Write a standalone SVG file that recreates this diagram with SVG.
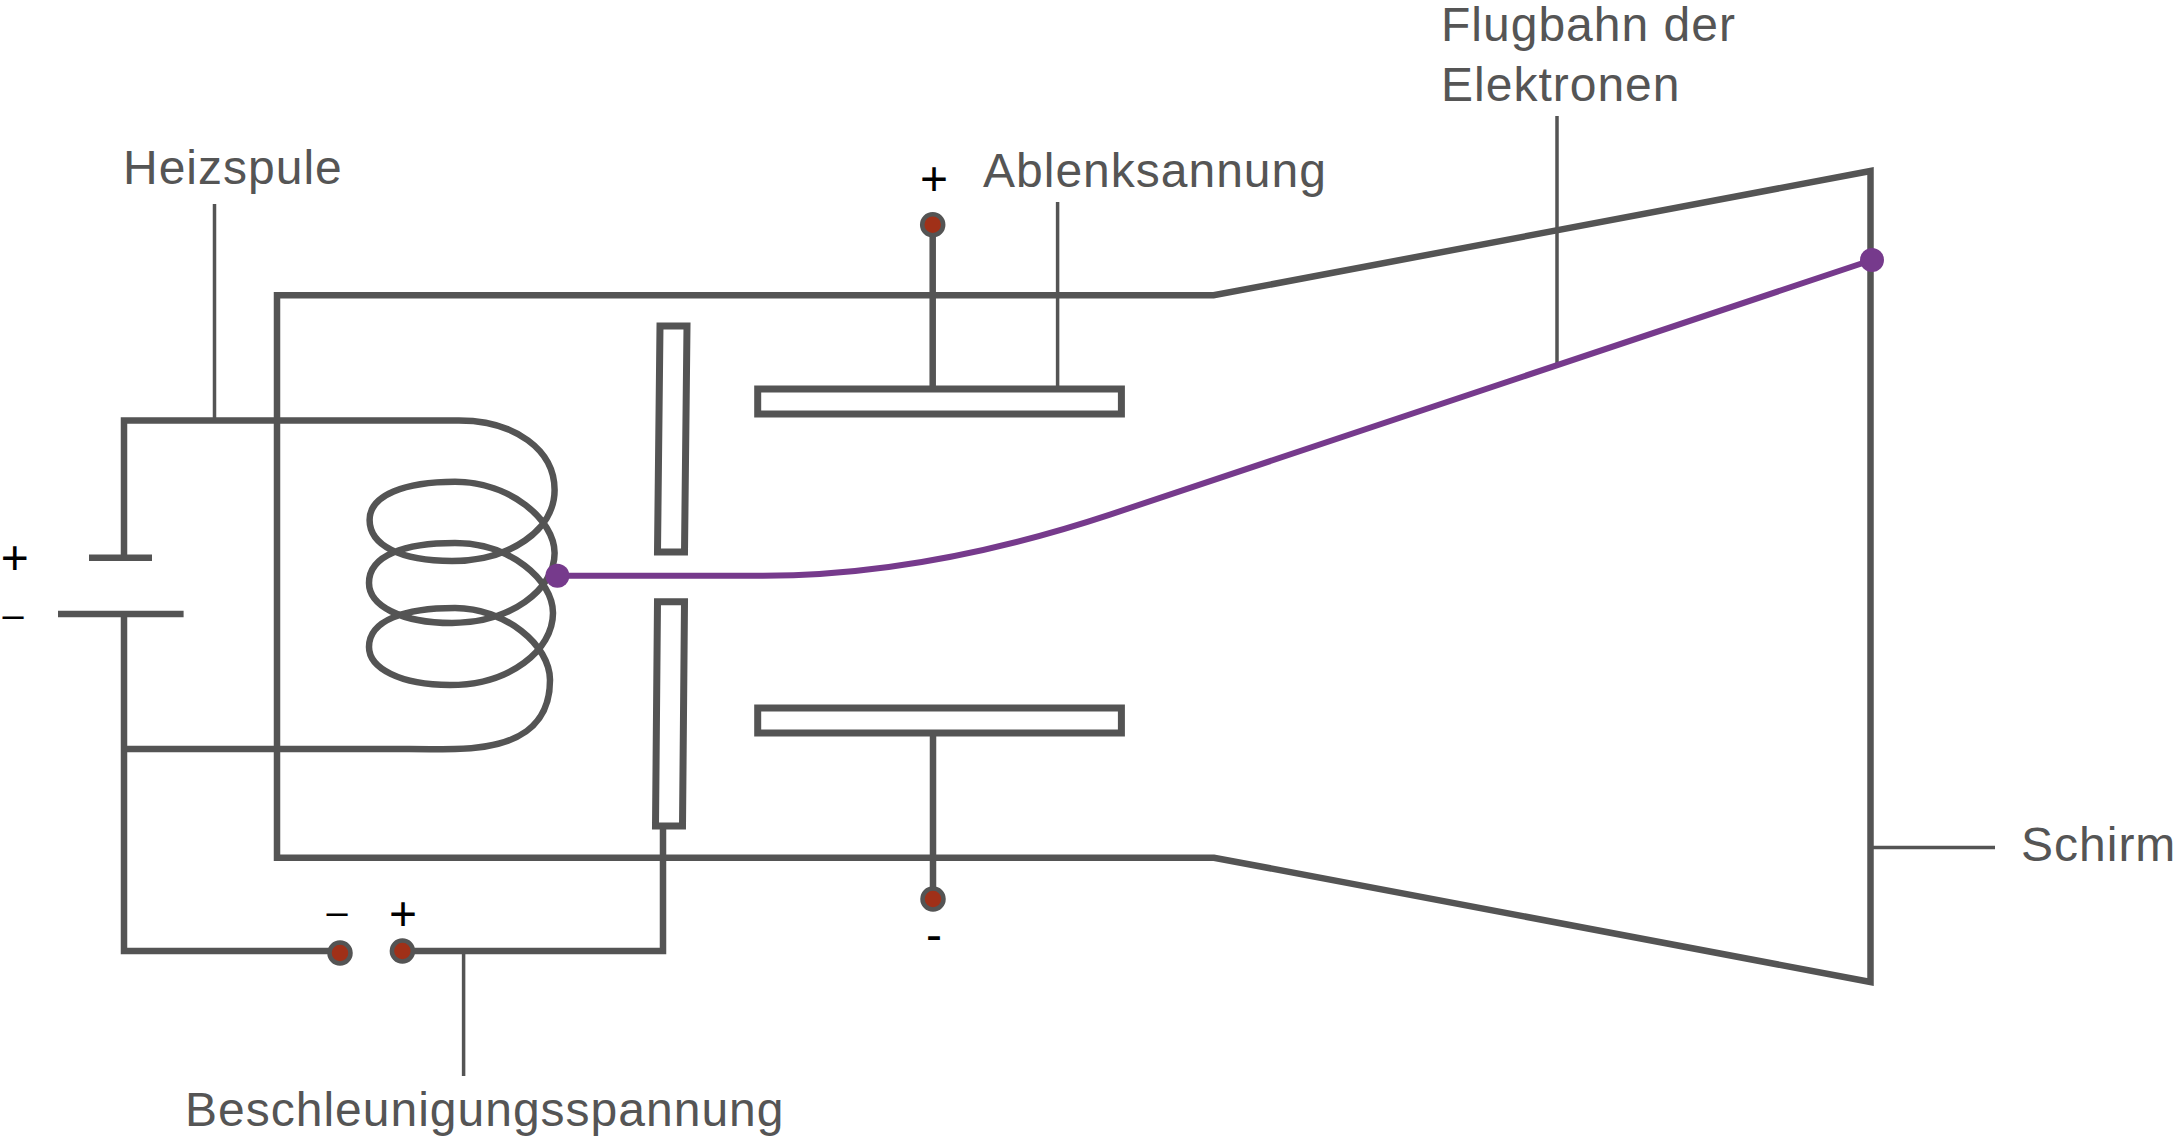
<svg xmlns="http://www.w3.org/2000/svg" width="2175" height="1137" viewBox="0 0 2175 1137">
<style>
text{font-family:"Liberation Sans",Arial,sans-serif;font-size:48px;letter-spacing:1px;fill:#555}
.s{fill:#000;letter-spacing:0;text-anchor:middle}
.w{fill:none;stroke:#545454;stroke-width:6.5;stroke-linejoin:miter}
.l{fill:none;stroke:#545454;stroke-width:3.5}
.p{fill:#fff;stroke:#545454;stroke-width:7}
.t{fill:#a03018;stroke:#545454;stroke-width:4.5}
.e{fill:none;stroke:#763a8c;stroke-width:6}
.d{fill:#763a8c}
</style>
<rect width="2175" height="1137" fill="#fff"/>
<g id="connectors">
<path class="l" d="M214.5 204V420M1057.6 202V389M1557 116V367M463.6 951V1076M1870 847.5H1995"/>
<path class="w" d="M932.7 225V389M933 733V900M124 614V951H340M402 951H663V827"/>
<path class="w" d="M124 558V420.5H459C515 420.5 554.6 450 554.6 490"/>
</g>
<g id="tube"><path class="w" d="M1870.5 171L1213.6 295.3H277V857.7H1214L1870.5 982V171Z"/></g>
<g id="battery">
<path class="w" d="M89 557.7H152M58 614H183.6"/>
</g>
<g id="coil">
<path class="w" d="M124 749H400C410 749 425 749.5 455 749C520 748 550 725 550 680C550 645 505 608 455 608C405 608 369 620 369 647C369 668 400 685 450 685C510 685 553 650 553 613C553 580 510 543 455 543C405 543 369 555 369 583C369 605 400 623 452 623C510 623 554.600 590 554.600 553C554.600 520 510 481.700 455 481.700C405 481.700 369.600 495 369.600 520C369.600 545 400 561 452 561C510 561 554.600 530 554.600 490"/>
</g>
<g id="slit-upper"><path class="p" d="M660 326H687L684.500 552H657.500Z"/></g>
<g id="slit-lower"><path class="p" d="M657.500 601.700H684.500L682.500 826H655.500Z"/></g>
<g id="plate-upper"><rect class="p" x="757.700" y="389" width="363.700" height="25"/></g>
<g id="plate-lower"><rect class="p" x="757.700" y="708" width="363.700" height="25"/></g>
<g id="beam"><path class="e" d="M557 575.700H763C880 575.700 1000 551 1110 514.600L1872 260"/>
<circle class="d" cx="557.400" cy="575.700" r="12"/><circle class="d" cx="1872" cy="260" r="12"/></g>
<g id="terminals">
<circle class="t" cx="932.700" cy="224.700" r="10.500"/>
<circle class="t" cx="933" cy="899" r="10.500"/>
<circle class="t" cx="340" cy="953" r="10.500"/>
<circle class="t" cx="402.400" cy="951" r="10.500"/>
</g>
<g id="labels">
<text x="123" y="184">Heizspule</text>
<text x="983" y="187">Ablenksannung</text>
<text x="1441" y="41">Flugbahn der</text>
<text x="1441" y="101">Elektronen</text>
<text x="185" y="1126">Beschleunigungsspannung</text>
<text x="2021" y="861">Schirm</text>
<text class="s" x="934" y="195">+</text>
<text class="s" x="14.700" y="574">+</text>
<text class="s" x="13" y="628" style="font-size:38px">–</text>
<text class="s" x="337" y="925" style="font-size:38px">–</text>
<text class="s" x="403" y="930">+</text>
<text class="s" x="934" y="951">-</text>
</g>
</svg>
